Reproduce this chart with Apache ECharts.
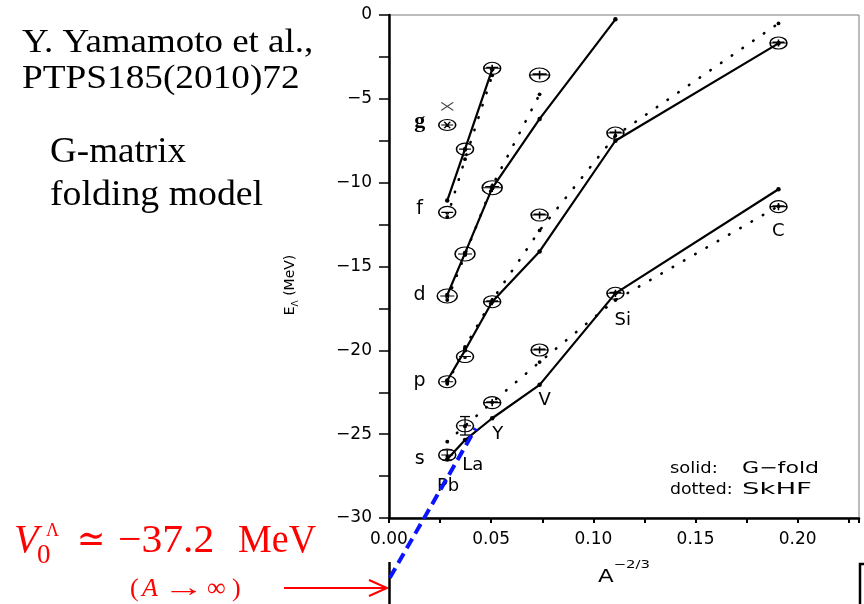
<!DOCTYPE html>
<html><head><meta charset="utf-8">
<script src="https://cdn.jsdelivr.net/npm/echarts@6/dist/echarts.min.js"></script>
<style>html,body{margin:0;padding:0;background:#fff}#c{width:864px;height:604px}</style>
</head><body><div id="c"></div>
<script>
// ---- data ----
const nuclei = ['Pb', 'La', 'Y', 'V', 'Si', 'C'];
const nucleusX = [0.0285, 0.0372, 0.0505, 0.0737, 0.1108, 0.1906];   // A^-2/3
// G-matrix folding (solid)
const gfoldS = [-26.5, -25.35, -24.05, -22.06, -16.6, -10.39];
const gfoldP = [-21.8, -20.0, -17.1, -14.1, -7.5, -1.69];
const gfoldD = [-16.7, -14.2, -10.33, -6.2, -0.26];
const gfoldF = [-11.07, -8.0, -3.24];
const gfoldG = [-5.45];
// SkHF (dotted)
const skhfS = [-25.45, -24.5, -23.1, -20.7, -17.0, -11.4];
const skhfP = [-22.0, -19.8, -17.0, -12.85, -7.2, -0.5];
const skhfD = [-17.0, -14.3, -10.2, -4.73];
const skhfF = [-12.05, -8.6, -3.6];
// experiment
const expS = [-26.24, -24.5, -23.12, -19.98, -16.6, -11.43];
const expP = [-21.87, -20.37, -17.1, -11.93, -7.04, -1.67];
const expD = [-16.76, -14.25, -10.3, -3.58];
const expF = [-11.77, -8.0, -3.18];
const expG = [-6.56];
const expSErr = [0.3, 0.55];            // Pb, La half error
// extrapolation to A -> infinity
const extrapolation = [[0.0004, -33.57], [0.0424, -24.65]];
// annotation texts
const shellNames = ['g', 'f', 'd', 'p', 's'];
const shellNameY = [-6.35, -11.6, -16.7, -21.85, -26.5];
const shellNameX = 0.015;
const nucleusNamePos = [[0.0289, -28.13], [0.041, -26.83], [0.0532, -24.98], [0.0762, -22.96], [0.1144, -18.19], [0.1905, -12.91]];
const yTickLabels = ['−30', '−25', '−20', '−15', '−10', '−5', '0'];
const xTickLabels = ['0.00', '0.05', '0.10', '0.15', '0.20'];

// ---- helpers ----
const pair = ys => ys.map((y, i) => [nucleusX[i], y]);
const CIRC = 'M0,-10A10,10,0,1,1,0,10A10,10,0,1,1,0,-10Z';
const SYM_PLUS = 'path://' + CIRC + 'M-10,0L10,0M-7,-1.6L7,-1.6M0,-6L0,6';
const SYM_DOT = 'path://' + CIRC + 'M-7,0L7,0M-1.2,2A1.2,1.2,0,1,1,1.2,2A1.2,1.2,0,1,1,-1.2,2Z';
const SYM_STAR = 'path://' + CIRC + 'M-7,0L7,0M-3.5,-6.06L3.5,6.06M-3.5,6.06L3.5,-6.06';
const SYM_X = 'path://M-10,-10L10,10M-10,10L10,-10';
const SANS = '"DejaVu Sans", sans-serif';
const SERIF = '"Liberation Serif", "DejaVu Serif", serif';

const solid = (ys) => ({
  type: 'line', data: pair(ys), symbol: 'circle', symbolSize: 4.5, z: 3,
  itemStyle: { color: '#000', opacity: 1 }, lineStyle: { color: '#000', width: 2.2 }
});
const dotted = (ys) => ({
  type: 'line', data: pair(ys), symbol: 'circle', symbolSize: 3.8, z: 3,
  itemStyle: { color: '#000', opacity: 1 },
  lineStyle: { color: '#000', width: 2.6, type: [0.5, 12.5], cap: 'round' }
});
const openStyle = { color: 'rgba(0,0,0,0)', borderColor: '#000', borderWidth: 1.3, opacity: 1 };
const exp = (ys, size) => ({
  type: 'scatter', data: pair(ys), z: 4,
  symbol: (v, p) => p.dataIndex < 2 ? SYM_DOT : SYM_PLUS,
  symbolSize: size, itemStyle: openStyle
});
const labelSeries = (items, base) => ({
  type: 'scatter', z: 5, symbolSize: 1, itemStyle: { color: 'rgba(0,0,0,0)', opacity: 1 },
  data: items,
  label: Object.assign({ show: true, position: 'inside', formatter: p => p.name, color: '#000', opacity: 1 }, base)
});

const chart = echarts.init(document.getElementById('c'), null, { renderer: 'canvas' });
chart.setOption({
  animation: false,
  backgroundColor: '#fff',
  grid: { left: 389, right: 5, top: 15, bottom: 86, show: true, borderColor: '#7a7a7a', borderWidth: 1 },
  xAxis: {
    type: 'value', min: 0, max: 0.23, interval: 0.025,
    axisLine: { show: true, onZero: false, lineStyle: { color: '#000', width: 2.5 } },
    axisTick: { show: true, length: 5, lineStyle: { color: '#000', width: 2 } },
    splitLine: { show: false },
    axisLabel: {
      margin: 13, color: '#000', fontSize: 17, fontFamily: SANS,
      formatter: v => {
        const k = v / 0.05;
        return Math.abs(k - Math.round(k)) < 1e-6 ? (xTickLabels[Math.round(k)] || '') : '';
      }
    }
  },
  yAxis: {
    type: 'value', min: -30, max: 0, interval: 2.5,
    axisLine: { show: true, onZero: false, lineStyle: { color: '#000', width: 2.5 } },
    axisTick: { show: true, length: 10, lineStyle: { color: '#000', width: 1.5 } },
    splitLine: { show: false },
    axisLabel: {
      margin: 17, color: '#000', fontSize: 17, fontFamily: SANS,
      formatter: v => {
        const k = (v + 30) / 5;
        return Math.abs(k - Math.round(k)) < 1e-6 ? (yTickLabels[Math.round(k)] || '') : '';
      }
    }
  },
  series: [
    solid(gfoldS), solid(gfoldP), solid(gfoldD), solid(gfoldF),
    dotted(skhfS), dotted(skhfP), dotted(skhfD), dotted(skhfF),
    exp(expS, [17, 12]), exp(expP, [17, 12]), exp(expD, [20, 14]), exp(expF, [17, 12]),
    { type: 'scatter', data: pair(expG), symbol: SYM_STAR, symbolSize: [17, 11], z: 4, itemStyle: openStyle },
    { type: 'scatter', data: pair(gfoldG), symbol: SYM_X, symbolSize: [12, 8], z: 4,
      itemStyle: { color: 'rgba(0,0,0,0)', borderColor: '#444', borderWidth: 1, opacity: 1 } },
    { type: 'custom', z: 4,
      data: expSErr.map((e, i) => [nucleusX[i], expS[i] - e, expS[i] + e]),
      renderItem: (params, api) => {
        const x = api.value(0);
        const a = api.coord([x, api.value(2)]), b = api.coord([x, api.value(1)]);
        const w = 5, st = { stroke: '#000', lineWidth: 1.3 };
        return { type: 'group', children: [
          { type: 'line', shape: { x1: a[0], y1: a[1], x2: b[0], y2: b[1] }, style: st },
          { type: 'line', shape: { x1: a[0] - w, y1: a[1], x2: a[0] + w, y2: a[1] }, style: st },
          { type: 'line', shape: { x1: b[0] - w, y1: b[1], x2: b[0] + w, y2: b[1] }, style: st }
        ] };
      }
    },
    { type: 'line', data: extrapolation, symbol: 'none', clip: false, z: 6,
      lineStyle: { color: '#0a14ff', width: 4, type: [11, 6] } },
    labelSeries(nuclei.map((n, i) => ({ name: n, value: nucleusNamePos[i] })),
      { fontSize: 18, fontFamily: SANS }),
    labelSeries(shellNames.map((n, i) => ({ name: n, value: [shellNameX, shellNameY[i]],
        label: i === 0 ? { fontFamily: SERIF, fontWeight: 'bold', fontSize: 22 } : {} })),
      { fontSize: 19, fontFamily: SANS })
  ],
  graphic: [
    // top-left captions
    { type: 'text', x: 22, y: 43, scaleX: 1.12, style: { text: 'Y. Yamamoto et al.,', font: '33px ' + SERIF, fill: '#000', align: 'left', verticalAlign: 'middle' } },
    { type: 'text', x: 22, y: 79, scaleX: 1.13, style: { text: 'PTPS185(2010)72', font: '33px ' + SERIF, fill: '#000', align: 'left', verticalAlign: 'middle' } },
    { type: 'text', x: 50, y: 153, scaleX: 1.06, style: { text: 'G-matrix', font: '35px ' + SERIF, fill: '#000', align: 'left', verticalAlign: 'middle' } },
    { type: 'text', x: 50, y: 196, scaleX: 1.08, style: { text: 'folding model', font: '35px ' + SERIF, fill: '#000', align: 'left', verticalAlign: 'middle' } },
    // legend text
    { type: 'text', x: 670, y: 469, scaleX: 1.12, style: { text: 'solid:', font: '16px ' + SANS, fill: '#000', align: 'left', verticalAlign: 'middle' } },
    { type: 'text', x: 742, y: 469, scaleX: 1.38, style: { text: 'G−fold', font: '16px ' + SANS, fill: '#000', align: 'left', verticalAlign: 'middle' } },
    { type: 'text', x: 670, y: 489.5, scaleX: 1.08, style: { text: 'dotted:', font: '16px ' + SANS, fill: '#000', align: 'left', verticalAlign: 'middle' } },
    { type: 'text', x: 742, y: 489.5, scaleX: 1.72, style: { text: 'SkHF', font: '16px ' + SANS, fill: '#000', align: 'left', verticalAlign: 'middle' } },
    // axis names
    { type: 'text', x: 624, y: 573, scaleX: 1.35, style: {
        text: '{a|A}{s|−2/3}', align: 'center', verticalAlign: 'middle',
        rich: { a: { fontSize: 17, fontFamily: SANS, fill: '#000', color: '#000', lineHeight: 26, verticalAlign: 'bottom' },
                s: { fontSize: 11, fontFamily: SANS, fill: '#000', color: '#000', lineHeight: 26, verticalAlign: 'top' } } } },
    { type: 'text', x: 290, y: 285, rotation: Math.PI / 2, style: {
        text: '{a|E}{s|Λ}{a| (MeV)}', align: 'center', verticalAlign: 'middle',
        rich: { a: { fontSize: 14, fontFamily: SANS, fill: '#000', color: '#000', lineHeight: 20, verticalAlign: 'middle' },
                s: { fontSize: 9, fontFamily: SANS, fill: '#000', color: '#000', lineHeight: 20, verticalAlign: 'bottom' } } } },
    // red annotation
    { type: 'text', x: 14, y: 541.5, style: { text: 'V', font: 'italic 40px ' + SERIF, fill: '#ff0000', align: 'left', verticalAlign: 'middle' } },
    { type: 'text', x: 37, y: 556, style: { text: '0', font: '27px ' + SERIF, fill: '#ff0000', align: 'left', verticalAlign: 'middle' } },
    { type: 'text', x: 46, y: 531, style: { text: 'Λ', font: '18px ' + SERIF, fill: '#ff0000', align: 'left', verticalAlign: 'middle' } },
    { type: 'text', x: 77, y: 541.5, scaleX: 0.85, style: { text: '≃', font: '40px ' + SERIF, fill: '#ff0000', align: 'left', verticalAlign: 'middle' } },
    { type: 'text', x: 118, y: 541.5, scaleX: 1.04, style: { text: '−37.2', font: '40px ' + SERIF, fill: '#ff0000', align: 'left', verticalAlign: 'middle' } },
    { type: 'text', x: 238, y: 541.5, scaleX: 0.95, style: { text: 'MeV', font: '40px ' + SERIF, fill: '#ff0000', align: 'left', verticalAlign: 'middle' } },
    { type: 'text', x: 130, y: 589, style: { text: '(', font: '26px ' + SERIF, fill: '#ff0000', align: 'left', verticalAlign: 'middle' } },
    { type: 'text', x: 142, y: 589, style: { text: 'A', font: 'italic 26px ' + SERIF, fill: '#ff0000', align: 'left', verticalAlign: 'middle' } },
    { type: 'text', x: 184, y: 589, scaleX: 1.6, style: { text: '→', font: '26px ' + SERIF, fill: '#ff0000', align: 'center', verticalAlign: 'middle' } },
    { type: 'text', x: 207, y: 589, style: { text: '∞', font: '26px ' + SERIF, fill: '#ff0000', align: 'left', verticalAlign: 'middle' } },
    { type: 'text', x: 232, y: 589, style: { text: ')', font: '26px ' + SERIF, fill: '#ff0000', align: 'left', verticalAlign: 'middle' } },
    { type: 'line', shape: { x1: 284, y1: 588, x2: 386, y2: 588 }, style: { stroke: '#ff0000', lineWidth: 2 } },
    { type: 'polyline', shape: { points: [[369, 580], [387, 588], [369, 596]] }, style: { stroke: '#ff0000', lineWidth: 2, fill: null } },
    // remnants of the lower panel
    { type: 'line', shape: { x1: 389.5, y1: 562, x2: 389.5, y2: 604 }, style: { stroke: '#000', lineWidth: 2.5 } },
    { type: 'polyline', shape: { points: [[864, 564], [860, 564], [860, 604]] }, style: { stroke: '#000', lineWidth: 2.5, fill: null } }
  ]
});
</script>
</body></html>
